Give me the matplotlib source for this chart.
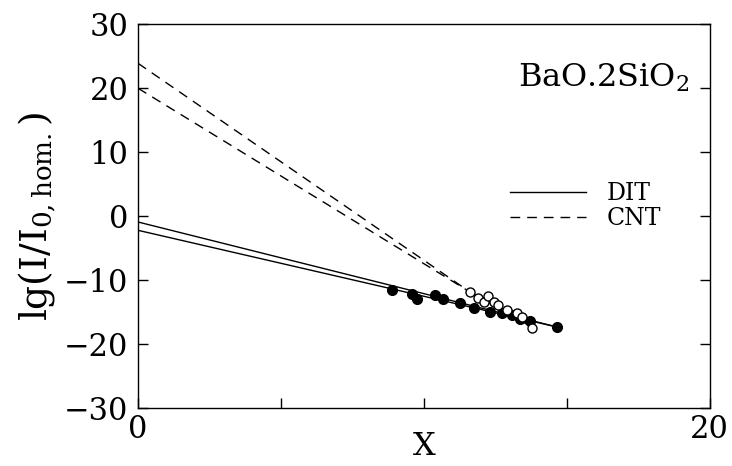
import matplotlib as mpl
import matplotlib.pyplot as plt

mpl.rcParams.update(
    {
        "font.family": "serif",
        "font.serif": ["DejaVu Serif", "Liberation Serif"],
        "mathtext.fontset": "dejavuserif",
        "axes.linewidth": 1.0,
    }
)

# --- data ---
black_x = [8.89, 9.59, 9.76, 10.40, 10.67, 11.25, 11.74, 12.32, 12.73, 13.08, 13.37, 13.72, 14.65]
black_y = [-11.6, -12.2, -12.9, -12.3, -12.9, -13.5, -14.3, -15.0, -15.2, -15.5, -16.1, -16.3, -17.3]
open_x = [11.62, 11.91, 12.09, 12.26, 12.44, 12.61, 12.90, 13.25, 13.43, 13.78]
open_y = [-11.8, -12.7, -13.4, -12.5, -13.4, -13.9, -14.7, -15.2, -15.7, -17.4]

# DIT fits (solid), extrapolated to X = 0
dit_x = [0.0, 14.65]
dit_y_a = [-0.9, -17.3]
dit_y_b = [-2.2, -17.3]

# CNT fits: dashed extrapolation, solid over the data range
cnt_x_ext = [0.0, 11.6]
cnt_y_a_ext = [23.9, -11.8]
cnt_y_b_ext = [20.0, -11.8]
cnt_x_dat = [11.6, 13.8]
cnt_y_dat = [-11.8, -17.3]

x_ticks = [0, 5, 10, 15, 20]
x_ticklabels = ["0", "", "", "", "20"]
y_ticks = [-30, -20, -10, 0, 10, 20, 30]

fig = plt.figure(figsize=(7.32, 4.66), dpi=100)
ax = fig.add_axes([0.1885, 0.124, 0.781, 0.824])

ax.plot(dit_x, dit_y_a, color="black", lw=1.0, label="DIT")
ax.plot(dit_x, dit_y_b, color="black", lw=1.0)
ax.plot(cnt_x_ext, cnt_y_a_ext, color="black", lw=1.0, dashes=(7, 5), label="CNT")
ax.plot(cnt_x_ext, cnt_y_b_ext, color="black", lw=1.0, dashes=(7, 5))
ax.plot(cnt_x_dat, cnt_y_dat, color="black", lw=1.4)

ax.plot(black_x, black_y, "o", color="black", ms=7, zorder=5)
ax.plot(open_x, open_y, "o", mfc="white", mec="black", mew=1.0, ms=6.5, zorder=6)

ax.set_xlim(0, 20)
ax.set_ylim(-30, 30)
ax.set_xticks(x_ticks)
ax.set_xticklabels(x_ticklabels)
ax.set_yticks(y_ticks)
ax.tick_params(axis="both", direction="in", length=7, width=1.0, labelsize=22)
ax.tick_params(axis="y", right=True, pad=7)
ax.tick_params(axis="x", pad=4)

ax.set_xlabel("X", fontsize=23, labelpad=-10)
ax.set_ylabel(r"lg(I/I$_{\rm 0,hom.}$)", fontsize=27, labelpad=4)

ax.text(0.965, 0.86, r"BaO.2SiO$_2$", transform=ax.transAxes,
        fontsize=23, ha="right", va="center")

ax.legend(loc="upper left", bbox_to_anchor=(0.63, 0.62), frameon=False,
          fontsize=17, handlelength=3.2, handletextpad=0.9, labelspacing=0.1,
          borderpad=0)

fig.savefig("out.png", dpi=100, facecolor="white")
